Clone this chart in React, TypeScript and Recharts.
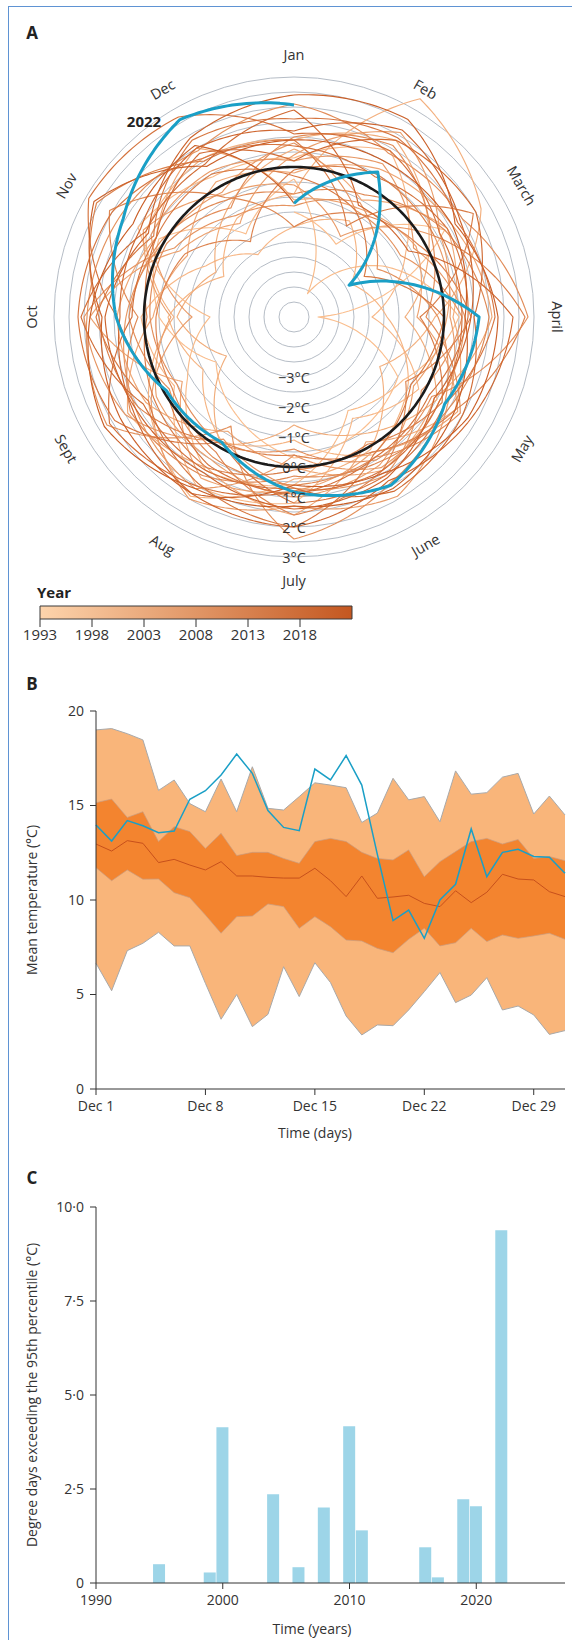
import React from "react";
import {
  RadarChart,
  Radar,
  PolarGrid,
  PolarAngleAxis,
  PolarRadiusAxis,
  ComposedChart,
  Area,
  Line,
  XAxis,
  YAxis,
  BarChart,
  Bar,
  ReferenceArea,
} from "recharts";

const FONT = "'Open Sans', 'Noto Sans', sans-serif";
const INK = "#333333";

// ---------- panel A: monthly temperature anomaly spiral ----------
const monthNames = ["Jan", "Feb", "March", "April", "May", "June", "July", "Aug", "Sept", "Oct", "Nov", "Dec"];
const monthIndex = [0, 1, 2, 3, 4, 5, 6, 7, 8, 9, 10, 11, 12];
const ringTicks = [-4.5, -4, -3.5, -3, -2.5, -2, -1.5, -1, -0.5, 0, 0.5, 1, 1.5, 2, 2.5, 3];
const years = [
  1993, 1994, 1995, 1996, 1997, 1998, 1999, 2000, 2001, 2002, 2003, 2004, 2005, 2006, 2007,
  2008, 2009, 2010, 2011, 2012, 2013, 2014, 2015, 2016, 2017, 2018, 2019, 2020, 2021, 2022,
];
// Jan..Dec anomaly (°C), one row per year
const monthlyAnomaly = [
  [-1.5, -2.2, 0.8, -4.2, -1.0, -0.6, -0.3, -1.2, -2.0, -0.5, 0.2, -1.8],
  [-0.4, -4.1, -1.6, 0.5, -0.8, -1.4, 0.6, 0.9, -0.9, -2.2, 1.0, 0.4],
  [0.3, 1.4, -0.7, -2.4, -0.2, -1.1, 1.2, 1.5, -0.4, 0.1, -1.6, -2.6],
  [-2.0, -1.3, -2.8, -1.9, -0.6, 0.3, -0.9, -0.2, -1.5, -0.8, -2.3, -1.2],
  [-0.9, 3.4, 2.2, -0.3, -1.7, 0.1, 0.4, 1.9, 0.6, -1.0, 0.7, 1.1],
  [0.9, 1.8, 0.2, -1.3, 0.5, -0.5, -1.4, -0.1, -2.4, -1.1, -2.0, -0.7],
  [0.6, -0.5, 0.9, 0.3, 1.2, -0.2, 1.6, 0.8, 1.4, -0.3, -0.9, 0.2],
  [-0.2, 0.7, 1.1, 1.6, 0.4, 0.9, 0.0, -0.6, 0.7, 0.9, 0.3, 1.5],
  [-1.1, -0.8, -0.3, -0.9, 1.3, 0.2, 0.8, 1.2, -0.7, 1.8, -0.6, -1.4],
  [0.4, 2.1, 0.6, 0.1, -0.4, 0.7, 1.0, 0.5, 0.3, -0.9, 0.8, -0.3],
  [-0.6, -1.9, 0.4, 0.2, 0.9, 1.9, 1.3, 2.0, 0.5, -1.6, 0.5, 0.6],
  [0.2, 0.9, -0.4, 0.7, 0.6, 0.8, -0.4, 1.6, 1.1, 0.6, 0.0, -0.2],
  [0.8, -0.9, -0.9, 0.6, -0.1, 1.1, 0.7, -0.3, 1.5, 2.0, -0.4, -1.1],
  [-1.3, -0.6, -1.8, -0.2, 0.8, 1.4, 2.4, -0.8, 2.2, 1.9, 1.7, 1.4],
  [2.1, 1.3, 1.5, 2.8, 0.3, 0.5, -0.6, -0.1, -0.5, -0.2, -0.1, -0.8],
  [1.0, 1.6, 0.3, -0.6, 1.4, 0.4, 0.6, 0.4, -0.2, 0.5, 0.1, -0.5],
  [-0.9, -0.3, 0.8, 1.5, 1.0, 0.6, 0.3, 1.1, 1.3, 0.2, 2.1, -0.4],
  [-2.0, -1.0, -0.2, 0.9, -0.7, 0.9, 1.6, 0.2, -0.3, -0.4, -0.8, -2.1],
  [-0.1, 0.5, 0.4, 2.7, 1.2, 0.2, -0.4, -0.2, 1.0, 1.5, 2.6, 1.0],
  [0.9, -1.5, 1.9, -0.8, 0.7, -0.1, 0.1, 0.8, 0.4, -0.1, 0.3, 0.5],
  [-0.3, -0.9, -2.3, 0.0, -0.5, 0.3, 2.0, 1.4, 0.6, 1.6, 0.4, 1.8],
  [1.6, 1.9, 1.3, 1.7, 0.8, 1.1, 1.2, -0.2, 1.9, 2.2, 2.0, 1.1],
  [0.7, 0.4, 0.9, 0.8, 0.2, 0.4, 0.9, 0.7, -0.1, 0.9, 2.9, 2.7],
  [1.1, 1.4, 0.6, 0.6, 0.6, 0.9, 0.8, 1.5, 2.1, 0.4, 0.3, 1.3],
  [0.2, 1.8, 2.0, 1.0, 1.5, 1.7, 0.7, 0.9, 0.8, 2.1, 0.7, 0.9],
  [1.9, -0.7, -0.6, 2.3, 1.8, 1.3, 2.0, 1.8, 1.2, 0.8, 0.9, 1.5],
  [1.2, 2.2, 1.4, 0.9, 0.4, 1.2, 1.4, 1.0, 1.1, 1.3, 0.6, 1.9],
  [2.4, 2.6, 1.2, 1.8, 1.7, 1.0, 0.6, 1.8, 1.7, 1.4, 2.7, 0.8],
  [0.9, 1.0, 1.1, 0.7, 1.2, 1.6, 1.3, 1.6, 2.3, 1.8, 1.2, 1.6],
  [-1.21, 0.58, -2.88, 1.17, 0.8, 1.47, 0.83, -0.18, -0.09, 0.93, 1.57, 2.6],
];
const nextJanuary = 2.07; // Jan 2023, closes the 2022 loop
const zeroLine = 0;

const legendYears = [1993, 2023];
const legendTicks = [1993, 1998, 2003, 2008, 2013, 2018];

// ---------- panel B: December daily mean temperature ----------
const days = [1, 2, 3, 4, 5, 6, 7, 8, 9, 10, 11, 12, 13, 14, 15, 16, 17, 18, 19, 20, 21, 22, 23, 24, 25, 26, 27, 28, 29, 30, 31];
const dayTicks = [1, 8, 15, 22, 29];
const tempMax = [19.0, 19.07, 18.8, 18.47, 15.8, 16.35, 15.1, 14.67, 16.4, 14.67, 17.05, 14.85, 14.76, 15.47, 16.2, 16.08, 15.94, 14.1, 14.6, 16.44, 15.3, 15.47, 14.14, 16.83, 15.6, 15.68, 16.5, 16.7, 14.55, 15.5, 14.5];
const tempUpper = [15.15, 15.34, 14.37, 14.67, 13.09, 13.88, 13.62, 12.73, 13.53, 12.35, 12.52, 12.52, 12.2, 11.94, 13.09, 13.26, 13.09, 12.52, 12.2, 12.12, 12.65, 11.23, 12.03, 12.56, 13.09, 13.26, 12.96, 13.2, 12.2, 12.3, 12.08];
const tempMedian = [12.96, 12.59, 13.14, 13.0, 11.98, 12.15, 11.85, 11.59, 12.03, 11.27, 11.27, 11.2, 11.16, 11.16, 11.68, 11.02, 10.18, 11.27, 10.09, 10.16, 10.25, 9.82, 9.65, 10.49, 9.86, 10.41, 11.36, 11.11, 11.06, 10.44, 10.18];
const tempLower = [11.71, 11.02, 11.59, 11.1, 11.11, 10.39, 10.12, 9.2, 8.24, 9.12, 9.15, 9.79, 9.65, 8.5, 9.12, 8.59, 7.88, 7.83, 7.44, 7.21, 7.92, 8.5, 7.57, 7.74, 8.5, 7.8, 8.15, 7.97, 8.1, 8.24, 7.92];
const tempMin = [6.65, 5.2, 7.32, 7.71, 8.29, 7.57, 7.57, 5.59, 3.69, 5.0, 3.3, 3.95, 6.47, 4.89, 6.68, 5.63, 3.86, 2.86, 3.39, 3.35, 4.18, 5.15, 6.16, 4.57, 4.97, 5.89, 4.18, 4.39, 3.92, 2.89, 3.09];
const temp2022 = [13.97, 13.12, 14.2, 13.93, 13.56, 13.65, 15.33, 15.78, 16.61, 17.72, 16.7, 14.73, 13.84, 13.67, 16.93, 16.35, 17.64, 16.08, 12.4, 8.91, 9.47, 7.97, 10.0, 10.83, 13.76, 11.23, 12.52, 12.68, 12.3, 12.26, 11.41];
const tempTicks = [0, 5, 10, 15, 20];

// ---------- panel C: degree days above 95th percentile ----------
const barYears = [1995, 1999, 2000, 2004, 2006, 2008, 2010, 2011, 2016, 2017, 2019, 2020, 2022];
const degreeDays = [0.5, 0.28, 4.14, 2.36, 0.42, 2.01, 4.17, 1.4, 0.95, 0.15, 2.23, 2.04, 9.38];
const yearTicks = [1990, 2000, 2010, 2020];
const degreeTicks = [0, 2.5, 5, 7.5, 10];

// spiral geometry
const CX = 294;
const CY = 317;
const OUTER = 240;
const LABEL_R = 263;

function mix(a: number[], b: number[], t: number) {
  const c = a.map((v, i) => Math.round(v + (b[i] - v) * t));
  return `rgb(${c[0]},${c[1]},${c[2]})`;
}
const yearT = (year: number) => (year - 1993) / (2023 - 1993);
const lineColour = (year: number) => mix([250, 190, 142], [198, 86, 30], yearT(year));
const barColour = (year: number) => mix([253, 212, 172], [196, 87, 32], yearT(year));

const spiralRows = monthIndex.map((m) => {
  const row: Record<string, number> = { m, zero: zeroLine };
  years.forEach((y, i) => {
    row[`y${y}`] = m < 12 ? monthlyAnomaly[i][m] : i + 1 < years.length ? monthlyAnomaly[i + 1][0] : nextJanuary;
  });
  return row;
});

const legendRows = legendYears.map((year) => ({ year, band: 1 }));

const tempRows = days.map((day, i) => ({
  day,
  outer: [tempMin[i], tempMax[i]],
  inner: [tempLower[i], tempUpper[i]],
  median: tempMedian[i],
  y2022: temp2022[i],
}));

const barRows = barYears.map((year, i) => ({ year, value: degreeDays[i] }));

// draws a polar line: radius changes linearly with angle between the library's points
function SpiralPath({ points, stroke, width }: any) {
  if (!points || points.length < 2) return null;
  let d = `M${points[0].x},${points[0].y}`;
  for (let i = 1; i < points.length; i++) {
    const p = points[i - 1];
    const q = points[i];
    const steps = 24;
    for (let k = 1; k <= steps; k++) {
      const t = k / steps;
      const a = ((p.angle + (q.angle - p.angle) * t) * Math.PI) / 180;
      const r = p.radius + (q.radius - p.radius) * t;
      d += `L${(q.cx + r * Math.cos(-a)).toFixed(2)},${(q.cy + r * Math.sin(-a)).toFixed(2)}`;
    }
  }
  return <path d={d} fill="none" stroke={stroke} strokeWidth={width} strokeLinejoin="round" />;
}

function MonthTick(props: any) {
  const m = Math.round(Number(props.payload?.value));
  if (!(m >= 0 && m < 12)) return <g />;
  const deg = m * 30;
  const rad = (deg * Math.PI) / 180;
  const x = CX + LABEL_R * Math.sin(rad);
  const y = CY - LABEL_R * Math.cos(rad);
  const rot = deg <= 90 ? deg : deg < 270 ? deg - 180 : deg - 360;
  return (
    <text
      x={x}
      y={y}
      transform={`rotate(${rot} ${x} ${y})`}
      textAnchor="middle"
      dominantBaseline="central"
      fontFamily={FONT}
      fontSize={14.5}
      fill={INK}
    >
      {monthNames[m]}
    </text>
  );
}

function RingLabel(props: any) {
  const v = Number(props.payload?.value);
  if (!Number.isInteger(v) || v < -3) return <g />;
  const txt = `${v < 0 ? "\u2212" : ""}${Math.abs(v)}°C`;
  return (
    <text x={props.x} y={props.y} textAnchor="middle" dominantBaseline="central" fontFamily={FONT} fontSize={14.5} fill={INK}>
      {txt}
    </text>
  );
}

const fmtDegree = (v: number) => (v === 0 ? "0" : v.toFixed(1).replace(".", "\u00b7"));

const tickStyle = { fontFamily: FONT, fontSize: 14, fill: INK };

export default function App() {
  return (
    <div style={{ position: "absolute", left: 0, top: 0, width: 572, height: 1640, background: "#fff", overflow: "hidden" }}>
      <div
        style={{
          position: "absolute",
          left: 8,
          top: 6,
          width: 570,
          height: 1640,
          borderLeft: "1.5px solid #5f93d3",
          borderTop: "1.5px solid #5f93d3",
        }}
      />

      <div style={{ position: "absolute", left: 0, top: 0 }}>
        <RadarChart width={572} height={600} data={spiralRows} cx={CX} cy={CY} outerRadius={OUTER} innerRadius={0}>
          <PolarGrid gridType="circle" radialLines={false} stroke="#b6bdc6" strokeWidth={1} />
          <PolarAngleAxis
            dataKey="m"
            type="number"
            domain={[0, 12]}
            tickCount={13}
            ticks={monthIndex as any}
            axisLine={false}
            tickLine={false}
            tick={(p: any) => <MonthTick {...p} />}
          />
          {years.slice(0, -1).map((y) => {
            const col = lineColour(y);
            return (
              <Radar
                key={y}
                dataKey={`y${y}`}
                stroke={col}
                fill="none"
                isAnimationActive={false}
                dot={false}
                shape={(p: any) => <SpiralPath points={p.points} stroke={col} width={1.15} />}
              />
            );
          })}
          <Radar
            dataKey="zero"
            stroke="#1b1b1b"
            fill="none"
            isAnimationActive={false}
            dot={false}
            shape={(p: any) => <SpiralPath points={p.points} stroke="#1b1b1b" width={2.6} />}
          />
          <Radar
            dataKey="y2022"
            stroke="#1a9fc6"
            fill="none"
            isAnimationActive={false}
            dot={false}
            shape={(p: any) => <SpiralPath points={p.points} stroke="#1a9fc6" width={3} />}
          />
          <PolarRadiusAxis
            angle={-90}
            domain={[-5, 3]}
            type="number"
            allowDataOverflow
            ticks={ringTicks as any}
            tickCount={17}
            axisLine={false}
            tickLine={false}
            tick={(p: any) => <RingLabel {...p} />}
          />
        </RadarChart>
      </div>

      {/* colour bar legend */}
      <div style={{ position: "absolute", left: 0, top: 580 }}>
        <ComposedChart width={572} height={72} data={legendRows} margin={{ top: 26, left: 40, right: 220, bottom: 0 }}>
          <defs>
            <linearGradient id="yearGrad" x1="0" y1="0" x2="1" y2="0">
              <stop offset="0%" stopColor={barColour(1993)} />
              <stop offset="50%" stopColor={barColour(2008)} />
              <stop offset="100%" stopColor={barColour(2023)} />
            </linearGradient>
          </defs>
          <XAxis
            dataKey="year"
            type="number"
            domain={[1993, 2023]}
            ticks={legendTicks}
            axisLine={false}
            tickSize={8}
            tickLine={{ stroke: INK }}
            tick={{ ...tickStyle, fontSize: 15 }}
            tickMargin={2}
            height={33}
            interval={0}
          />
          <YAxis hide type="number" domain={[0, 1]} />
          <Area
            type="linear"
            dataKey="band"
            baseValue={0}
            fill="url(#yearGrad)"
            fillOpacity={1}
            stroke="none"
            isAnimationActive={false}
          />
          <ReferenceArea x1={1993} x2={2023} y1={0} y2={1} ifOverflow="visible" fill="none" stroke="#3a3a3a" strokeWidth={1} />
        </ComposedChart>
      </div>

      {/* panel B */}
      <div style={{ position: "absolute", left: 0, top: 680 }}>
        <ComposedChart width={572} height={460} data={tempRows} margin={{ top: 31, right: 7, bottom: 21, left: 0 }}>
          <XAxis
            dataKey="day"
            type="number"
            domain={[1, 31]}
            ticks={dayTicks}
            tickFormatter={(d: number) => `Dec ${d}`}
            stroke={INK}
            tickSize={6}
            tickMargin={6}
            tick={tickStyle}
            height={30}
            interval={0}
          />
          <YAxis
            type="number"
            domain={[0, 20]}
            ticks={tempTicks}
            stroke={INK}
            tickSize={6}
            tickMargin={6}
            tick={tickStyle}
            width={96}
            interval={0}
          />
          <Area type="linear" dataKey="outer" fill="#f9b57a" fillOpacity={1} stroke="#a9a9a9" strokeWidth={1} isAnimationActive={false} />
          <Area type="linear" dataKey="inner" fill="#f3842f" fillOpacity={1} stroke="#c99e82" strokeWidth={0.7} isAnimationActive={false} />
          <Line type="linear" dataKey="median" stroke="#c7501b" strokeWidth={1} dot={false} isAnimationActive={false} />
          <Line type="linear" dataKey="y2022" stroke="#1a9fc6" strokeWidth={1.5} dot={false} isAnimationActive={false} />
        </ComposedChart>
      </div>

      {/* panel C */}
      <div style={{ position: "absolute", left: 0, top: 1180 }}>
        <BarChart width={572} height={460} data={barRows} margin={{ top: 27, right: 7, bottom: 27, left: 0 }}>
          <XAxis
            dataKey="year"
            type="number"
            domain={[1990, 2027]}
            ticks={yearTicks}
            stroke={INK}
            tickSize={6}
            tickMargin={6}
            tick={tickStyle}
            height={30}
            interval={0}
          />
          <YAxis
            type="number"
            domain={[0, 10]}
            ticks={degreeTicks}
            tickFormatter={fmtDegree}
            stroke={INK}
            tickSize={6}
            tickMargin={6}
            tick={tickStyle}
            width={96}
            interval={0}
          />
          <Bar dataKey="value" fill="#9dd5e8" barSize={12} isAnimationActive={false} />
        </BarChart>
      </div>

      {/* titles and annotations */}
      <svg width={572} height={1640} style={{ position: "absolute", left: 0, top: 0, pointerEvents: "none" }}>
        <g fontFamily={FONT} fill="#222">
          <text x={32} y={32} textAnchor="middle" dominantBaseline="central" fontSize={17} fontWeight={700}>A</text>
          <text x={32} y={683} textAnchor="middle" dominantBaseline="central" fontSize={17} fontWeight={700}>B</text>
          <text x={32} y={1177} textAnchor="middle" dominantBaseline="central" fontSize={17} fontWeight={700}>C</text>
          <text x={144} y={121} textAnchor="middle" dominantBaseline="central" fontSize={15} fontWeight={700}>2022</text>
          <text x={37} y={592} dominantBaseline="central" fontSize={15} fontWeight={700}>Year</text>
        </g>
        <g fontFamily={FONT} fill={INK} fontSize={14}>
          <text x={31} y={900} textAnchor="middle" dominantBaseline="central" transform="rotate(-90 31 900)">Mean temperature (°C)</text>
          <text x={315} y={1132} textAnchor="middle" dominantBaseline="central">Time (days)</text>
          <text x={31} y={1395} textAnchor="middle" dominantBaseline="central" transform="rotate(-90 31 1395)">Degree days exceeding the 95th percentile (°C)</text>
          <text x={312} y={1628} textAnchor="middle" dominantBaseline="central">Time (years)</text>
        </g>
      </svg>
    </div>
  );
}
